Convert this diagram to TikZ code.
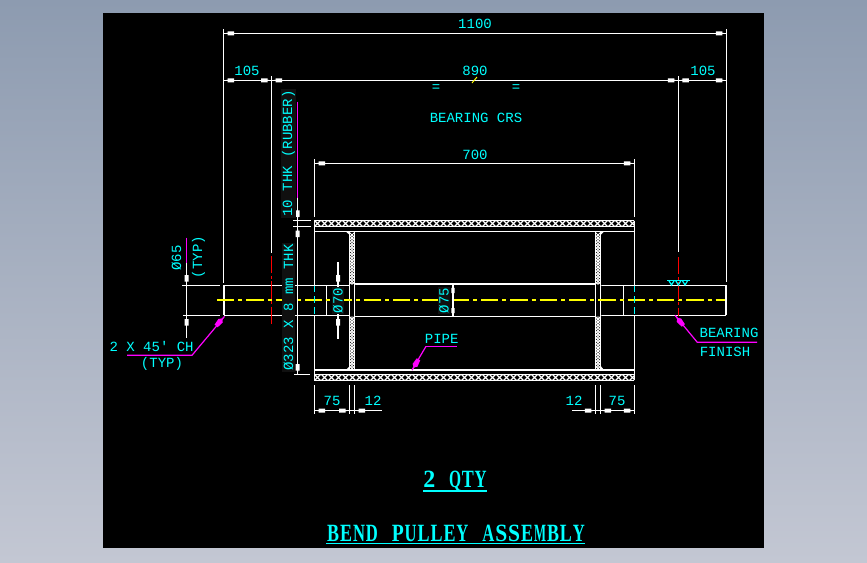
\documentclass[tikz,border=0pt]{standalone}
\usepackage{fontspec}
\setmainfont{Liberation Sans}
\newfontfamily\cadfont{Liberation Mono}
\newfontfamily\titlefont{Liberation Serif}
\definecolor{cadcyan}{HTML}{00FFFF}
\definecolor{cadmag}{HTML}{FF00FF}
\definecolor{cadyel}{HTML}{FFFF00}
\definecolor{cadred}{HTML}{FF0000}
\definecolor{bgtop}{HTML}{8D9BB0}
\definecolor{bgbot}{HTML}{C3C7D3}
\definecolor{dimbg}{HTML}{101010}
\makeatletter
\def\fp@blank{~}
\newcommand{\fixpitch}[2]{\@tfor\fp@c:=#2\do{\makebox[#1][c]{\ifx\fp@c\fp@blank\else\resizebox{9pt}{\height}{\fp@c}\fi}}}
\makeatother
\tikzset{
  wl/.style={draw=white,line width=0.9},
  wthick/.style={draw=white,line width=1.7},
  ml/.style={draw=cadmag,line width=0.9},
  centerl/.style={draw=cadyel,line width=0.9,dash pattern=on 13 off 3 on 3 off 3},
  redl/.style={draw=cadred,line width=1,dash pattern=on 13 off 2 on 2 off 2},
  cyandash/.style={draw=cadcyan,line width=0.9,dash pattern=on 5 off 3},
  cadtxt/.style={text=cadcyan,font=\cadfont\fontsize{10.5}{11}\selectfont,inner sep=1pt},
  vtxt/.style={cadtxt,rotate=90,fill=dimbg},
  titletxt/.style={text=cadcyan,inner sep=0pt,font=\titlefont\bfseries\fontsize{18.6}{20}\selectfont},
  ah/.pic={\fill[white] (0,0)--(-3.5,-0.5)--(-3.5,-2)--(-10,-2)--(-10,2)--(-3.5,2)--(-3.5,0.5)--cycle;},
  mh/.pic={\fill[cadmag] (0,0)--(-4,-0.6)--(-6,-2.8)--(-13,-2)--(-13,2)--(-6,2.8)--(-4,0.6)--cycle;},
}
\newcommand{\ahat}[3]{\pic[rotate=#3] at (#1,#2) {ah};}
\begin{document}
\begin{tikzpicture}[x=0.75pt,y=-0.75pt]
\useasboundingbox (0,0) rectangle (867,562);
\shade[top color=bgtop,bottom color=bgbot] (0,0) rectangle (867,562);
\fill[black] (103,13) rectangle (764,548);

% rubber lagging (cross hatch)
\begin{scope}
\clip (314.5,220.7) rectangle (634.3,226.7) (314.5,374.3) rectangle (634.3,380.3);
\foreach \k in {0,1,...,50}{
  \draw[white,line width=0.9] ({314+\k*7},220) -- ({321+\k*7},227);
  \draw[white,line width=0.9] ({321+\k*7},220) -- ({314+\k*7},227);
  \draw[white,line width=0.9] ({314+\k*7},374) -- ({321+\k*7},381);
  \draw[white,line width=0.9] ({321+\k*7},374) -- ({314+\k*7},381);
}
\end{scope}
% end discs (fine hatch)
\begin{scope}
\clip (349.7,232) rectangle (354.7,284.5) (349.7,316.5) rectangle (354.7,370)
      (595.3,232) rectangle (600.7,284.5) (595.3,316.5) rectangle (600.7,370);
\foreach \k in {0,1,...,56}{
  \draw[white,line width=0.7] (345,{228+\k*2.9}) -- (359,{242+\k*2.9});
  \draw[white,line width=0.7] (359,{228+\k*2.9}) -- (345,{242+\k*2.9});
  \draw[white,line width=0.7] (591,{228+\k*2.9}) -- (605,{242+\k*2.9});
  \draw[white,line width=0.7] (605,{228+\k*2.9}) -- (591,{242+\k*2.9});
}
\end{scope}

% drum shell
\foreach \yy in {220.7,226.7,231.7,370,374.3,380.3}{\draw[wl] (314.4,\yy) -- (634.3,\yy);}
\draw[wl] (314.4,220.7) -- (314.4,285.3);
\draw[wl] (314.4,316) -- (314.4,380.3);
\draw[wl] (634.3,220.7) -- (634.3,285.3);
\draw[wl] (634.3,316) -- (634.3,380.3);
% discs
\foreach \xx in {349.7,354.7,595.3,600.7}{\draw[wl] (\xx,231.7) -- (\xx,370);}
\fill[white] (346,231.7) -- (349.7,231.7) -- (349.7,235) -- cycle;
\fill[white] (346,370) -- (349.7,370) -- (349.7,366) -- cycle;
\fill[white] (600.7,231.7) -- (604,231.7) -- (600.7,235) -- cycle;
\fill[white] (600.7,370) -- (604,370) -- (600.7,366) -- cycle;
% shaft
\draw[wl] (224,285.3) -- (349.7,285.3);
\draw[wl] (224,315.3) -- (349.7,315.3);
\draw[wl] (354.7,284) -- (595.3,284);
\draw[wl] (354.7,316.7) -- (595.3,316.7);
\draw[wl] (600.7,285.3) -- (725.8,285.3);
\draw[wl] (600.7,315.3) -- (725.8,315.3);
\draw[wl] (326.7,285.3) -- (326.7,315.3);
\draw[wl] (623.3,285.3) -- (623.3,315.3);
\draw[wthick] (224,285.3) -- (224,315.3);
\draw[wthick] (725.8,285.3) -- (725.8,315.3);
\fill[black] (349,284.6) rectangle (355.4,316) (595,284.6) rectangle (601.3,316);
\foreach \xx in {349.7,354.7,595.3,600.7}{\draw[wl] (\xx,284) -- (\xx,317);}
% centre line and hidden lines
\draw[centerl] (217,300) -- (725,300);
\draw[cyandash] (314.4,285.5) -- (314.4,316);
\draw[cyandash] (634.3,285.5) -- (634.3,316);
\draw[redl] (271.5,256) -- (271.5,325);
\draw[redl] (678.3,257) -- (678.3,316);

% surface finish symbol
\draw[draw=cadcyan,line width=0.9] (667,280.3) -- (689.5,280.3);
\foreach \xx in {671.5,678.3,685}{
  \draw[draw=cadcyan,line width=0.9] ({\xx-2.8},280.3) -- (\xx,285) -- ({\xx+2.8},280.3);
}

% extension lines
\draw[wl] (223.4,29) -- (223.4,283);
\draw[wl] (726.3,29) -- (726.3,282);
\draw[wl] (271.5,76) -- (271.5,253);
\draw[wl] (678.3,76) -- (678.3,252);
\draw[wl] (314.4,159) -- (314.4,217);
\draw[wl] (634.3,159) -- (634.3,217);
\foreach \xx in {314.4,349.7,354.7,595.3,600.7,634.3}{\draw[wl] (\xx,385) -- (\xx,414);}

% overall dimensions
\draw[wl] (223.4,33.3) -- (726.3,33.3);
\ahat{224}{33.3}{180} \ahat{725.8}{33.3}{0}
\draw[wl] (223.4,80.3) -- (726.3,80.3);
\ahat{224}{80.3}{180} \ahat{271}{80.3}{0} \ahat{272}{80.3}{180}
\ahat{677.8}{80.3}{0} \ahat{678.8}{80.3}{180} \ahat{725.8}{80.3}{0}
\draw[draw=cadyel,line width=0.7] (472,83) -- (477,77);
\draw[wl] (314.4,163.3) -- (634.3,163.3);
\ahat{315}{163.3}{180} \ahat{633.8}{163.3}{0}
% bottom dimensions
\draw[wl] (314.4,410.7) -- (382,410.7);
\draw[wl] (572,410.7) -- (634.3,410.7);
\ahat{315}{410.7}{180} \ahat{349.2}{410.7}{0} \ahat{355.2}{410.7}{180}
\ahat{594.8}{410.7}{0} \ahat{601.2}{410.7}{180} \ahat{633.8}{410.7}{0}
% phi 65
\draw[ml] (186.5,237.7) -- (186.5,262.7);
\draw[wl] (186.5,262.7) -- (186.5,338);
\draw[wl] (182,285.3) -- (220,285.3);
\draw[wl] (183,315.3) -- (220,315.3);
\ahat{186.5}{285}{-90} \ahat{186.5}{315.6}{90}
% phi 70
\draw[wl] (338,262) -- (338,339);
\ahat{338}{285}{-90} \ahat{338}{315.6}{90}
% phi 75
\draw[wthick] (453,284) -- (453,316.7);
\pic[rotate=90,scale=0.8] at (453,285) {ah};
\pic[rotate=-90,scale=0.8] at (453,316) {ah};
% shell thickness / outer dia
\draw[ml] (297.5,101.7) -- (297.5,197.7);
\draw[wl] (297.7,197.7) -- (297.7,374.3);
\draw[wl] (293,220.7) -- (311,220.7);
\draw[wl] (293,226.7) -- (311,226.7);
\draw[wl] (294,374.3) -- (310,374.3);
\ahat{297.7}{220.4}{-90} \ahat{297.7}{227}{90} \ahat{297.7}{374}{-90}

% leaders
\draw[ml] (127,355.3) -- (192,355.3) -- (224.5,316.5);
\pic[rotate=50] at (224.5,316) {mh};
\draw[ml] (426,346.3) -- (457,346.3);
\draw[ml] (426,346.3) -- (412,370);
\pic[rotate=-120] at (412,370.5) {mh};
\draw[ml] (757,342.3) -- (697.3,342.3) -- (675,315.3);
\pic[rotate=130] at (675,315.5) {mh};

% labels
\node[cadtxt] (t1100) at (475,24.3) {1100};
\node[cadtxt] (t105l) at (247,71) {105};
\node[cadtxt] (t890) at (475,71) {890};
\node[cadtxt] (t105r) at (703,71) {105};
\node[cadtxt] (teql) at (436,88) {=};
\node[cadtxt] (teqr) at (516,88) {=};
\node[cadtxt] (tcrs) at (476,118) {BEARING CRS};
\node[cadtxt] (t700) at (475,154.5) {700};
\node[vtxt,anchor=west] (tthk) at (288.5,372) {Ø323 X 8 mm THK};
\node[vtxt,anchor=west] (trub) at (288.5,218) {10 THK (RUBBER)};
\node[vtxt,fill=none] (t65) at (176.5,258) {Ø65};
\node[vtxt,fill=none] (ttyp) at (198.5,257) {(TYP)};
\node[vtxt] (t70) at (338,300.5) {Ø70};
\node[vtxt] (t75) at (444,300.5) {Ø75};
\node[cadtxt,anchor=west] (tch) at (108,346) {2 X 45' CH};
\node[cadtxt] (ttyp2) at (162,364) {(TYP)};
\node[cadtxt] (tpipe) at (441.7,339) {PIPE};
\node[cadtxt] (t75l) at (332,401) {75};
\node[cadtxt] (t12l) at (373,401) {12};
\node[cadtxt] (t12r) at (574,401) {12};
\node[cadtxt] (t75r) at (617,401) {75};
\node[cadtxt] (tbear) at (729,333) {BEARING};
\node[cadtxt] (tfin) at (725,352) {FINISH};

% titles
\node[titletxt] (tqty) at (455,481.5) {\fixpitch{9.6pt}{2~QTY}};
\draw[draw=cadcyan,line width=0.9] (423,491) -- (487,491);
\node[titletxt] (ttitle) at (456,533) {\fixpitch{9.7pt}{BEND~PULLEY~ASSEMBLY}};
\draw[draw=cadcyan,line width=0.9] (326,543.5) -- (585,543.5);
\end{tikzpicture}
\end{document}
